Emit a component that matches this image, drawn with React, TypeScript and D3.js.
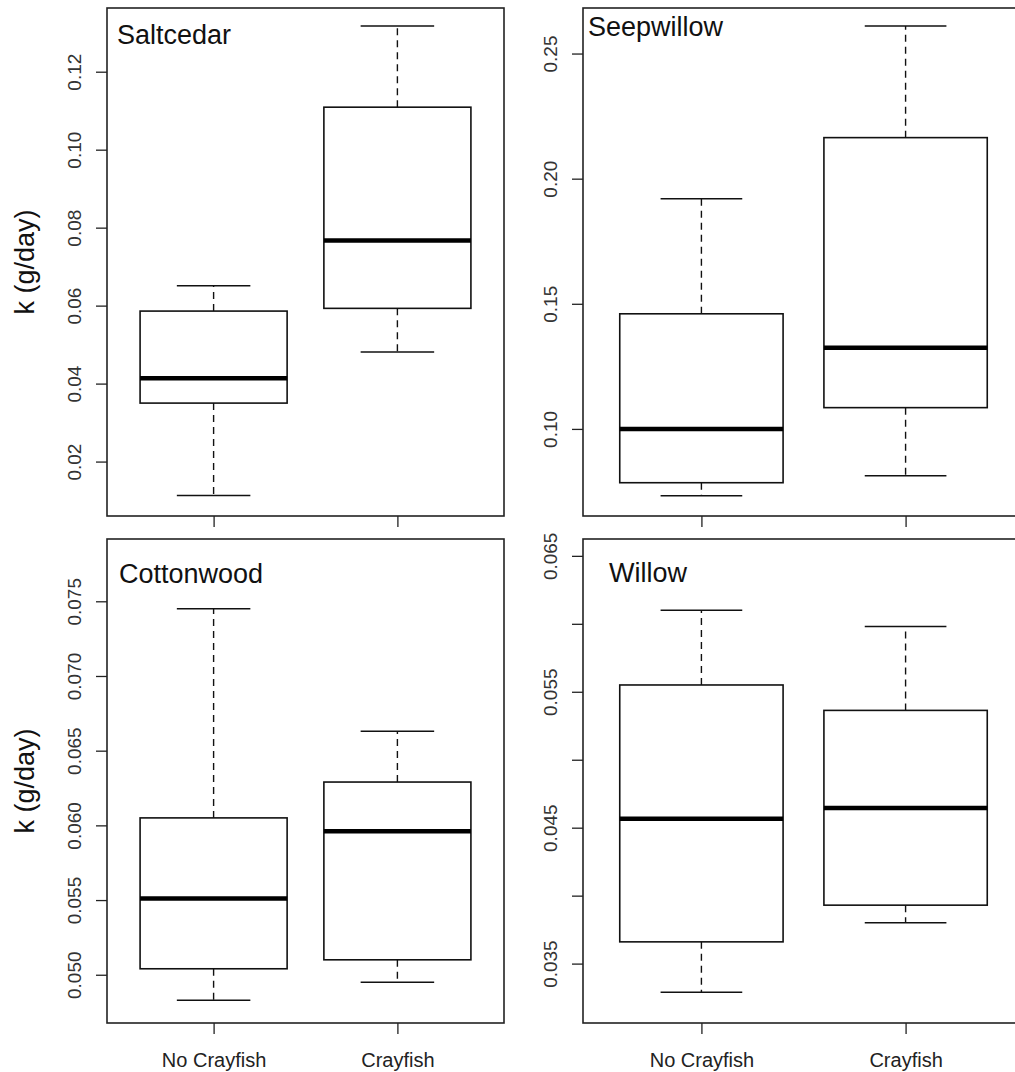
import React, { useEffect, useRef } from 'react';
import * as d3 from 'd3';

// five-number summaries [min, q1, median, q3, max] per group
const groups = ['No Crayfish', 'Crayfish'];
const saltcedar = [
  [0.0113, 0.035, 0.0414, 0.0586, 0.0651],
  [0.0481, 0.0593, 0.0767, 0.1109, 0.1317],
];
const seepwillow = [
  [0.0733, 0.0785, 0.1, 0.146, 0.192],
  [0.0813, 0.1085, 0.1324, 0.2164, 0.261],
];
const cottonwood = [
  [0.0483, 0.0504, 0.0551, 0.0605, 0.0745],
  [0.0495, 0.051, 0.0596, 0.0629, 0.0663],
];
const willow = [
  [0.0329, 0.0366, 0.04565, 0.0555, 0.061],
  [0.038, 0.0393, 0.04645, 0.05363, 0.0598],
];

const saltcedarTicks = [0.02, 0.04, 0.06, 0.08, 0.1, 0.12];
const seepwillowTicks = [0.1, 0.15, 0.2, 0.25];
const cottonwoodTicks = [0.05, 0.055, 0.06, 0.065, 0.07, 0.075];
const willowTicks = [0.035, 0.04, 0.045, 0.05, 0.055, 0.06, 0.065];
const willowLabelled = [0.035, 0.045, 0.055, 0.065];

const saltcedarDomain = [0.00604, 0.13634];
const seepwillowDomain = [0.0652, 0.2682];
const cottonwoodDomain = [0.04677, 0.07917];
const willowDomain = [0.03063, 0.06624];

const FONT = '"Liberation Sans", Arial, sans-serif';

export default function App() {
  const svgRef = useRef<SVGSVGElement>(null);

  useEffect(() => {
    const svg = d3.select(svgRef.current);
    svg.selectAll('*').remove();

    const panels = [
      { name: 'Saltcedar', data: saltcedar, domain: saltcedarDomain, ticks: saltcedarTicks, fmt: d3.format('.2f'),
        box: { l: 107, r: 504, t: 8, b: 516 }, title: { x: 117, y: 44 }, ylab: true, xlab: false },
      { name: 'Seepwillow', data: seepwillow, domain: seepwillowDomain, ticks: seepwillowTicks, fmt: d3.format('.2f'),
        box: { l: 583, r: 1024, t: 8, b: 516 }, title: { x: 588, y: 36 }, ylab: false, xlab: false },
      { name: 'Cottonwood', data: cottonwood, domain: cottonwoodDomain, ticks: cottonwoodTicks, fmt: d3.format('.3f'),
        box: { l: 107, r: 504, t: 539, b: 1023 }, title: { x: 119, y: 583 }, ylab: true, xlab: true },
      { name: 'Willow', data: willow, domain: willowDomain, ticks: willowTicks, fmt: d3.format('.3f'), only: willowLabelled,
        box: { l: 583, r: 1024, t: 539, b: 1023 }, title: { x: 609, y: 582 }, ylab: false, xlab: true },
    ];

    panels.forEach(p => {
      const { l, r, t, b } = p.box;
      const x = d3.scaleLinear().domain([0.42, 2.58]).range([l, r]);
      const y = d3.scaleLinear().domain(p.domain).range([b, t]);
      const g = svg.append('g');

      // y axis: ticks + labels turned on their side, like R's default
      const yAxis = d3.axisLeft(y).tickValues(p.ticks).tickSize(11)
        .tickFormat((d: any) => (p.only && !p.only.some(v => Math.abs(v - d) < 1e-9)) ? '' : p.fmt(d));
      const ya = g.append('g').attr('transform', `translate(${l},0)`).call(yAxis);
      ya.select('.domain').remove();
      ya.selectAll('line').attr('stroke', '#222').attr('stroke-width', 1.3);
      ya.selectAll('text')
        .attr('dy', null)
        .style('font-family', FONT).style('font-size', '19px').attr('fill', '#333')
        .attr('text-anchor', 'middle')
        .attr('transform', 'rotate(-90)')
        .attr('x', 0).attr('y', -26);

      // x axis ticks
      const xAxis = d3.axisBottom(x).tickValues([1, 2]).tickSize(11).tickPadding(15)
        .tickFormat((d: any) => p.xlab ? groups[d - 1] : '');
      const xa = g.append('g').attr('transform', `translate(0,${b})`).call(xAxis);
      xa.select('.domain').remove();
      xa.selectAll('line').attr('stroke', '#222').attr('stroke-width', 1.3);
      xa.selectAll('text').style('font-family', FONT).style('font-size', '20px').attr('fill', '#222').attr('dy', '0.9em');

      // frame
      g.append('rect').attr('x', l).attr('y', t).attr('width', r - l).attr('height', b - t)
        .attr('fill', 'none').attr('stroke', '#222').attr('stroke-width', 1.6);

      // boxes
      p.data.forEach((s, i) => {
        const c = x(i + 1);
        const half = x(i + 1.4) - c;
        const cap = x(i + 1.2) - c;
        const [mn, q1, md, q3, mx] = s;
        const bg = g.append('g').attr('stroke', '#111');
        bg.append('line').attr('x1', c).attr('x2', c).attr('y1', y(q3)).attr('y2', y(mx))
          .attr('stroke-width', 1.4).attr('stroke-dasharray', '7,5');
        bg.append('line').attr('x1', c).attr('x2', c).attr('y1', y(q1)).attr('y2', y(mn))
          .attr('stroke-width', 1.4).attr('stroke-dasharray', '7,5');
        bg.append('line').attr('x1', c - cap).attr('x2', c + cap).attr('y1', y(mx)).attr('y2', y(mx)).attr('stroke-width', 1.5);
        bg.append('line').attr('x1', c - cap).attr('x2', c + cap).attr('y1', y(mn)).attr('y2', y(mn)).attr('stroke-width', 1.5);
        bg.append('rect').attr('x', c - half).attr('width', 2 * half)
          .attr('y', y(q3)).attr('height', y(q1) - y(q3))
          .attr('fill', 'white').attr('stroke-width', 1.6);
        bg.append('line').attr('x1', c - half).attr('x2', c + half).attr('y1', y(md)).attr('y2', y(md))
          .attr('stroke', '#000').attr('stroke-width', 4.5);
      });

      // panel title
      g.append('text').attr('x', p.title.x).attr('y', p.title.y).text(p.name)
        .style('font-family', FONT).style('font-size', '27px').attr('fill', '#111');

      if (p.ylab) {
        g.append('text').attr('transform', `translate(34,${(t + b) / 2}) rotate(-90)`)
          .attr('text-anchor', 'middle').text('k (g/day)')
          .style('font-family', FONT).style('font-size', '27px').attr('fill', '#111');
      }
    });
  }, []);

  return (
    <div style={{ position: 'absolute', left: 0, top: 0, width: 1015, height: 1072, overflow: 'hidden', background: '#fff' }}>
      <svg ref={svgRef} width={1015} height={1072} style={{ display: 'block' }} />
    </div>
  );
}
